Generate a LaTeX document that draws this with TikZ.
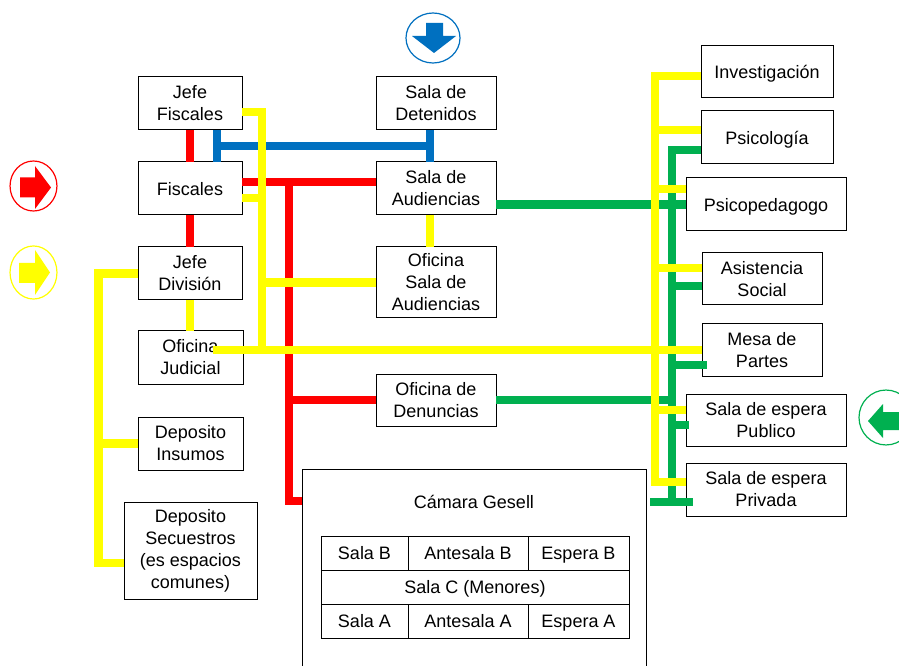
\documentclass[tikz,border=0pt]{standalone}
\usepackage{fontspec}
\setmainfont{Liberation Sans}
\definecolor{cred}{HTML}{FF0000}
\definecolor{cyel}{HTML}{FFFF00}
\definecolor{cblu}{HTML}{0070C0}
\definecolor{cgrn}{HTML}{00B050}
\newcommand\fs{\fontsize{13.5pt}{16.5pt}\selectfont}
\tikzset{
  box/.style={draw=black, line width=0.75pt, fill=white, align=center, inner sep=0pt, outer sep=0pt, font=\fs},
  one/.style={text height=11pt, text depth=1.2pt},
  cell/.style={box, one, minimum height=25.5pt},
  wire/.style={line width=6.6pt, line join=miter},
  rw/.style={wire, draw=cred},
  bw/.style={wire, draw=cblu},
  gw/.style={wire, draw=cgrn},
  yw/.style={wire, draw=cyel},
  ring/.style={line width=0.9pt, fill=white},
}
\begin{document}
\begin{tikzpicture}[x=0.75pt,y=-0.75pt]
\useasboundingbox (0,0) rectangle (899,666);
\fill[white] (0,0) rectangle (899,666);

% ---- boxes ----
\node[box, minimum width=78pt, minimum height=39.75pt] (jf) at (190,103.5) {Jefe\\Fiscales};
\node[box, minimum width=90pt, minimum height=39.75pt] (sd) at (436,103.5) {Sala de\\Detenidos};
\node[box, one, minimum width=78pt, minimum height=39.75pt] (fi) at (190,188.5) {Fiscales};
\node[box, minimum width=90pt, minimum height=39.75pt] (sa) at (436,188.5) {Sala de\\Audiencias};
\node[box, minimum width=78pt, minimum height=39.75pt] (jd) at (190,273.5) {Jefe\\División};
\node[box, minimum width=90pt, minimum height=53.25pt] (osa) at (436,282.5) {Oficina\\Sala de\\Audiencias};
\node[box, minimum width=78.75pt, minimum height=39.75pt] (oj) at (190.5,357.5) {Oficina\\Judicial};
\node[box, minimum width=90pt, minimum height=39pt] (od) at (436,400) {Oficina de\\Denuncias};
\node[box, minimum width=78.75pt, minimum height=39.75pt] (di) at (190.5,443.5) {Deposito\\Insumos};
\node[box, minimum width=99.75pt, minimum height=72.75pt] (ds) at (190.5,550.5) {Deposito\\Secuestros\\(es espacios\\comunes)};

\node[box, minimum width=258pt, minimum height=165pt] (cg) at (474,579) {};
\node[font=\fs, one, inner sep=0pt] (cgt) at (474,502) {Cámara Gesell};
\node[cell, minimum width=65.25pt] (sb) at (364.5,553) {Sala B};
\node[cell, minimum width=90pt] (ab) at (468,553) {Antesala B};
\node[cell, minimum width=75.75pt] (eb) at (578.5,553) {Espera B};
\node[cell, minimum width=231pt] (sc) at (475,587) {Sala C (Menores)};
\node[cell, minimum width=65.25pt] (sla) at (364.5,621) {Sala A};
\node[cell, minimum width=90pt] (aa) at (468,621) {Antesala A};
\node[cell, minimum width=75.75pt] (ea) at (578.5,621) {Espera A};

\node[box, one, minimum width=99pt, minimum height=39pt] (inv) at (767,72) {Investigación};
\node[box, one, minimum width=99pt, minimum height=39.75pt] (psi) at (767,137.5) {Psicología};
\node[box, one, minimum width=120pt, minimum height=39.75pt] (psp) at (766,204.5) {Psicopedagogo};
\node[box, minimum width=90pt, minimum height=39pt] (as) at (762,279) {Asistencia\\Social};
\node[box, minimum width=90pt, minimum height=39pt] (mp) at (762,350) {Mesa de\\Partes};
\node[box, minimum width=120pt, minimum height=39pt] (sep) at (766,420) {Sala de espera\\Publico};
\node[box, minimum width=120pt, minimum height=39.75pt] (spr) at (766,489.5) {Sala de espera\\Privada};

% ---- helper coordinates ----
\coordinate (bxl) at (217,0); \coordinate (bxr) at (430,0); \coordinate (by) at (0,146);
\coordinate (ry1) at (0,182); \coordinate (rx) at (289,0); \coordinate (ry3) at (0,501);
\coordinate (yx) at (262,0); \coordinate (yy1) at (0,112); \coordinate (yy2) at (0,198);
\coordinate (yoj) at (213,350);
\coordinate (ylx) at (98.5,0); \coordinate (ydb) at (0,563);
\coordinate (yrx) at (655,0); \coordinate (yinv) at (0,76); \coordinate (ypsi) at (0,130);
\coordinate (ypsp) at (0,189); \coordinate (yas) at (0,268); \coordinate (ysep) at (0,410);
\coordinate (yspr) at (0,482);
\coordinate (gx) at (672,0); \coordinate (gpsi) at (0,150); \coordinate (gas) at (0,286);
\coordinate (gmp) at (0,365); \coordinate (gsep) at (0,425); \coordinate (gspr) at (0,502);
\coordinate (gmpend) at (707,365); \coordinate (gsepend) at (689,425);
\coordinate (gsprL) at (650,502); \coordinate (gsprR) at (693,502);

% ---- red ----
\draw[rw] (jf.south) -- (fi.north);
\draw[rw] (fi.south) -- (jd.north);
\draw[rw] (fi.east |- ry1) -- (sa.west |- ry1);
\draw[rw] (rx |- ry1) -- (rx |- ry3) -- (cg.west |- ry3);
\draw[rw] (rx |- od.west) -- (od.west);

% ---- blue ----
\draw[bw] (jf.south -| bxl) -- (fi.north -| bxl);
\draw[bw] (bxl |- by) -- (bxr |- by);
\draw[bw] (sd.south -| bxr) -- (sa.north -| bxr);

% ---- green ----
\draw[gw] (sa.east |- psp.west) -- (psp.west);
\draw[gw] (psi.west |- gpsi) -- (gx |- gpsi) -- (gx |- gspr);
\draw[gw] (gsprL) -- (gsprR);
\draw[gw] (gx |- gas) -- (as.west |- gas);
\draw[gw] (gx |- gmp) -- (gmpend);
\draw[gw] (od.east) -- (gx |- od.east);
\draw[gw] (gx |- gsep) -- (gsepend);

% ---- yellow ----
\draw[yw] (jf.east |- yy1) -- (yx |- yy1) -- (yx |- yoj);
\draw[yw] (fi.east |- yy2) -- (yx |- yy2);
\draw[yw] (yx |- osa.west) -- (osa.west);
\draw[yw] (sa.south -| bxr) -- (osa.north -| bxr);
\draw[yw] (jd.south) -- (oj.north -| jd.south);
\draw[yw] (yoj) -- (mp.west |- yoj);
\draw[yw] (jd.west) -- (ylx |- jd.west) -- (ylx |- ydb) -- (ds.west |- ydb);
\draw[yw] (ylx |- di.west) -- (di.west);
\draw[yw] (inv.west |- yinv) -- (yrx |- yinv) -- (yrx |- yspr) -- (spr.west |- yspr);
\draw[yw] (yrx |- ypsi) -- (psi.west |- ypsi);
\draw[yw] (yrx |- ypsp) -- (psp.west |- ypsp);
\draw[yw] (yrx |- yas) -- (as.west |- yas);
\draw[yw] (yrx |- ysep) -- (sep.west |- ysep);

% ---- direction icons ----
\draw[ring, draw=cblu] (433,38) ellipse [x radius=20.25pt, y radius=18.75pt];
\fill[cblu] (426,23) -- (443,23) -- (443,36) -- (456,36) -- (434,53) -- (412,36) -- (426,36) -- cycle;

\draw[ring, draw=cred] (33.5,186) ellipse [x radius=17.6pt, y radius=18.75pt];
\fill[cred] (20,177.5) -- (35,177.5) -- (35,166) -- (51,187.5) -- (35,209) -- (35,197.5) -- (20,197.5) -- cycle;

\draw[ring, draw=cyel] (33.5,272.5) ellipse [x radius=17.6pt, y radius=19.9pt];
\fill[cyel] (19,263) -- (35,263) -- (35,250) -- (50,272.5) -- (35,295) -- (35,283) -- (19,283) -- cycle;

\draw[ring, draw=cgrn] (886,417.5) ellipse [x radius=20.25pt, y radius=20.6pt];
\fill[cgrn] (905,412) -- (883,412) -- (883,404) -- (868,421) -- (883,438) -- (883,430) -- (905,430) -- cycle;
\end{tikzpicture}
\end{document}
